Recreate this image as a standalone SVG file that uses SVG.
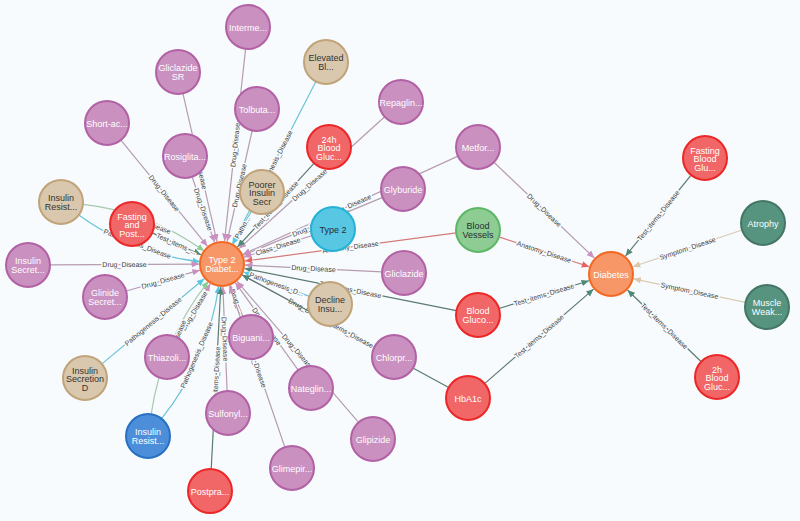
<svg xmlns="http://www.w3.org/2000/svg" width="800" height="521" viewBox="0 0 800 521">
<style>
.e{fill:none;stroke-width:1.2}
.dr{stroke:#b59cb0}
.te{stroke:#5b7a71}
.pa{stroke:#6cc3d6}
.an{stroke:#d47a7a}
.sy{stroke:#d8ccb4}
.cl{stroke:#c4a0be}
.re{stroke:#a9c8ae}
.lb{font-family:"Liberation Sans",Arial,sans-serif;font-size:7px;fill:#3c3c3c;text-anchor:middle;stroke:#f8fbfd;stroke-width:3;stroke-linejoin:round;paint-order:stroke}
.node circle{stroke-width:2}
.node text{font-family:"Liberation Sans",Arial,sans-serif;font-size:9px;text-anchor:middle;fill:#fff}
.drug circle{fill:#c990c0;stroke:#b261a5}
.path circle{fill:#d9c8ae;stroke:#c0a378}
.path text{fill:#333}
.test circle{fill:#f16667;stroke:#eb2728}
.cls circle{fill:#57c7e3;stroke:#23b3d7}
.cls text{fill:#2a2c34}
.dis circle{fill:#f79767;stroke:#f36924}
.anat circle{fill:#8dcc93;stroke:#5db665}
.anat text{fill:#2a2c34}
.symp circle{fill:#569480;stroke:#447666}
.reas circle{fill:#4c8eda;stroke:#2870c2}
</style>
<defs>
<marker id="aDr" markerUnits="userSpaceOnUse" markerWidth="8" markerHeight="7" refX="7.5" refY="3.25" orient="auto"><path d="M0,0L7.5,3.25L0,6.5Z" fill="#c990c0"/></marker>
<marker id="aTe" markerUnits="userSpaceOnUse" markerWidth="8" markerHeight="7" refX="7.5" refY="3.25" orient="auto"><path d="M0,0L7.5,3.25L0,6.5Z" fill="#4f8a78"/></marker>
<marker id="aPa" markerUnits="userSpaceOnUse" markerWidth="8" markerHeight="7" refX="7.5" refY="3.25" orient="auto"><path d="M0,0L7.5,3.25L0,6.5Z" fill="#57c7e3"/></marker>
<marker id="aAn" markerUnits="userSpaceOnUse" markerWidth="8" markerHeight="7" refX="7.5" refY="3.25" orient="auto"><path d="M0,0L7.5,3.25L0,6.5Z" fill="#e86464"/></marker>
<marker id="aSy" markerUnits="userSpaceOnUse" markerWidth="8" markerHeight="7" refX="7.5" refY="3.25" orient="auto"><path d="M0,0L7.5,3.25L0,6.5Z" fill="#d9c8ae"/></marker>
<marker id="aCl" markerUnits="userSpaceOnUse" markerWidth="8" markerHeight="7" refX="7.5" refY="3.25" orient="auto"><path d="M0,0L7.5,3.25L0,6.5Z" fill="#c990c0"/></marker>
<marker id="aRe" markerUnits="userSpaceOnUse" markerWidth="8" markerHeight="7" refX="7.5" refY="3.25" orient="auto"><path d="M0,0L7.5,3.25L0,6.5Z" fill="#8dcc93"/></marker>
</defs>
<rect width="800" height="521" fill="#f8fbfd"/>
<g id="connectors">
<!-- to Diabetes -->
<path class="e dr" marker-end="url(#aDr)" d="M493.9,162.2L594.4,258.1"/>
<text class="lb" transform="translate(544.2,210.1) rotate(43.7)" y="2.5">Drug_Disease</text>
<path class="e an" marker-end="url(#aAn)" d="M498.9,236.9L589.2,266.8"/>
<text class="lb" transform="translate(544,251.8) rotate(18.3)" y="2.5">Anatomy_Disease</text>
<path class="e te" marker-end="url(#aTe)" d="M499,308.5L589,280.8"/>
<text class="lb" transform="translate(544,294.7) rotate(-17.1)" y="2.5">Test_items_Disease</text>
<path class="e te" marker-end="url(#aTe)" d="M484.6,383.6L593.6,289.1"/>
<text class="lb" transform="translate(539.1,336.4) rotate(-40.9)" y="2.5">Test_items_Disease</text>
<path class="e te" marker-end="url(#aTe)" d="M691.1,175.1L625.5,256.1"/>
<text class="lb" transform="translate(658.3,215.6) rotate(-51)" y="2.5">Test_items_Disease</text>
<path class="e sy" marker-end="url(#aSy)" d="M742.1,230L632.8,266.7"/>
<text class="lb" transform="translate(687.5,248.4) rotate(-18.5)" y="2.5">Symptom_Disease</text>
<path class="e sy" marker-end="url(#aSy)" d="M745.5,302.4L633.5,278.8"/>
<text class="lb" transform="translate(689.5,290.6) rotate(11.9)" y="2.5">Symptom_Disease</text>
<path class="e te" marker-end="url(#aTe)" d="M701.2,361.7L627.5,290"/>
<text class="lb" transform="translate(664.4,325.9) rotate(44.2)" y="2.5">Test_items_Disease</text>
<!-- to Type 2 Diabetes -->
<path class="e dr" marker-end="url(#aDr)" d="M245.6,48.9L224.5,241.1"/>
<text class="lb" transform="translate(235.1,145) rotate(-83.7)" y="2.5">Drug_Disease</text>
<path class="e dr" marker-end="url(#aDr)" d="M252.2,130.5L227.1,241.6"/>
<text class="lb" transform="translate(239.3,185.5) rotate(-77.3)" y="2.5">Drug_Disease</text>
<path class="e dr" marker-end="url(#aDr)" d="M182.9,93.4L216.9,241.6"/>
<text class="lb" transform="translate(199.9,167.5) rotate(77.1)" y="2.5">Drug_Disease</text>
<path class="e dr" marker-end="url(#aDr)" d="M192.1,176.8L214.5,242.2"/>
<text class="lb" transform="translate(203.3,209.5) rotate(71.1)" y="2.5">Drug_Disease</text>
<path class="e dr" marker-end="url(#aDr)" d="M120.9,140.1L207.5,246.2"/>
<text class="lb" transform="translate(164.2,193.2) rotate(50.8)" y="2.5">Drug_Disease</text>
<path class="e pa" marker-end="url(#aPa)" d="M315.9,81.6L232.5,243.6"/>
<text class="lb" transform="translate(274.2,162.6) rotate(-62.8)" y="2.5">Pathogenesis_Disease</text>
<path class="e pa" marker-end="url(#aPa)" d="M251.3,211.2L233.2,243.9"/>
<text class="lb" transform="translate(242.3,227.6) rotate(-60.9)" y="2.5">Patho...</text>
<path class="e dr" marker-end="url(#aDr)" d="M384.7,116.8L239.1,248.6"/>
<text class="lb" transform="translate(309.5,185) rotate(-42.1)" y="2.5">Drug_Disease</text>
<path class="e te" marker-end="url(#aTe)" d="M314.2,163.2L237.5,247"/>
<text class="lb" transform="translate(275.8,205.1) rotate(-47.6)" y="2.5">Test_items_Disease</text>
<path class="e dr" marker-end="url(#aDr)" d="M458,156.1L242.9,254.4"/>
<text class="lb" transform="translate(350.5,205.3) rotate(-24.6)" y="2.5">Drug_Disease</text>
<path class="e dr" marker-end="url(#aDr)" d="M382.7,197.4L243.3,255.2"/>
<text class="lb" transform="translate(313,226.3) rotate(-22.5)" y="2.5">Drug_Disease</text>
<path class="e cl" marker-end="url(#aCl)" d="M312,235.6L243.9,257.1"/>
<text class="lb" transform="translate(278,246.4) rotate(-17.5)" y="2.5">Class_Disease</text>
<path class="e an" marker-end="url(#aAn)" d="M456.2,232.9L244.8,261"/>
<text class="lb" transform="translate(350.5,247) rotate(-7.6)" y="2.5">Anatomy_Disease</text>
<path class="e dr" marker-end="url(#aDr)" d="M382,271.9L245,265.1"/>
<text class="lb" transform="translate(313.5,268.5) rotate(2.8)" y="2.5">Drug_Disease</text>
<path class="e te" marker-end="url(#aTe)" d="M456.4,310.7L244.6,268.5"/>
<text class="lb" transform="translate(350.5,289.6) rotate(11.3)" y="2.5">Test_items_Disease</text>
<path class="e pa" marker-end="url(#aPa)" d="M309.4,296.4L243.6,272"/>
<text class="lb" transform="translate(276.5,284.2) rotate(20.3)" y="2.5">Pathogenesis_D...</text>
<path class="e dr" marker-end="url(#aDr)" d="M374.6,346.5L242.2,274.9"/>
<text class="lb" transform="translate(308.4,310.7) rotate(28.4)" y="2.5">Drug_Disease</text>
<path class="e te" marker-end="url(#aTe)" d="M448.7,387.5L242.2,275"/>
<text class="lb" transform="translate(345.4,331.2) rotate(28.6)" y="2.5">Test_items_Disease</text>
<path class="e re" marker-end="url(#aRe)" d="M82.9,204.3Q149.8,211.5 204.2,251.1"/>
<text class="lb" transform="translate(145.7,222.3) rotate(21.1)" y="2.5">Reason_Disease</text>
<path class="e pa" marker-end="url(#aPa)" d="M78.8,214.9Q133.2,254.5 200.1,261.7"/>
<text class="lb" transform="translate(137.4,243.8) rotate(21.1)" y="2.5">Pathogenesis_Disease</text>
<path class="e te" marker-end="url(#aTe)" d="M152.1,232.9L201,254.7"/>
<text class="lb" transform="translate(176.5,243.8) rotate(24)" y="2.5">Test_items_...</text>
<path class="e dr" marker-end="url(#aDr)" d="M50,264.9L199,264.1"/>
<text class="lb" transform="translate(124.5,264.5) rotate(-0.3)" y="2.5">Drug_Disease</text>
<path class="e dr" marker-end="url(#aDr)" d="M126.2,291L199.9,270.2"/>
<text class="lb" transform="translate(163,280.6) rotate(-15.8)" y="2.5">Drug_Disease</text>
<path class="e pa" marker-end="url(#aPa)" d="M101.9,363.9L204.3,278.7"/>
<text class="lb" transform="translate(153.1,321.3) rotate(-39.8)" y="2.5">Pathogenesis_Disease</text>
<path class="e dr" marker-end="url(#aDr)" d="M178.2,338.1L210.3,283.8"/>
<text class="lb" transform="translate(194.2,311) rotate(-59.4)" y="2.5">Drug_Disease</text>
<path class="e re" marker-end="url(#aRe)" d="M151.2,414.2Q162,340.1 208.4,281.3"/>
<text class="lb" transform="translate(173.5,345) rotate(-66.7)" y="2.5">Reason_Disease</text>
<path class="e pa" marker-end="url(#aPa)" d="M161.6,418.7Q208,359.9 218.8,285.8"/>
<text class="lb" transform="translate(196.5,355) rotate(-66.7)" y="2.5">Pathogenesis_Disease</text>
<path class="e dr" marker-end="url(#aDr)" d="M227.1,391L222.9,287"/>
<text class="lb" transform="translate(225,339) rotate(87.7)" y="2.5">Drug_Disease</text>
<path class="e te" marker-end="url(#aTe)" d="M211.2,469L220.8,287"/>
<text class="lb" transform="translate(216,378) rotate(-87)" y="2.5">Test_items_Disease</text>
<path class="e dr" marker-end="url(#aDr)" d="M242.9,316.5L230.5,285.4"/>
<text class="lb" transform="translate(236.7,301) rotate(68.3)" y="2.5">Drug_...</text>
<path class="e dr" marker-end="url(#aDr)" d="M298.2,370.1L235.4,282.7"/>
<text class="lb" transform="translate(266.8,326.4) rotate(54.3)" y="2.5">Drug_Disease</text>
<path class="e dr" marker-end="url(#aDr)" d="M358.6,422.3L237,281.4"/>
<text class="lb" transform="translate(297.8,351.9) rotate(49.2)" y="2.5">Drug_Disease</text>
<path class="e dr" marker-end="url(#aDr)" d="M284.9,447.2L229.5,285.8"/>
<text class="lb" transform="translate(257.2,366.5) rotate(71.1)" y="2.5">Drug_Disease</text>
</g>
<g id="nodes">
<g id="n-interme" class="node drug"><circle cx="248" cy="27" r="22"/><text x="248" y="30.8">Interme...</text></g>
<g id="n-gliclazide-sr" class="node drug"><circle cx="178" cy="72" r="22"/><text x="178" y="71.2">Gliclazide</text><text x="178" y="79.9">SR</text></g>
<g id="n-short-ac" class="node drug"><circle cx="107" cy="123" r="22"/><text x="107" y="126.8">Short-ac...</text></g>
<g id="n-rosiglita" class="node drug"><circle cx="185" cy="156" r="22"/><text x="185" y="159.8">Rosiglita...</text></g>
<g id="n-tolbuta" class="node drug"><circle cx="257" cy="109" r="22"/><text x="257" y="112.8">Tolbuta...</text></g>
<g id="n-elevated" class="node path"><circle cx="326" cy="62" r="22"/><text x="326" y="61.2">Elevated</text><text x="326" y="69.9">Bl...</text></g>
<g id="n-repaglin" class="node drug"><circle cx="401" cy="102" r="22"/><text x="401" y="105.8">Repaglin...</text></g>
<g id="n-24h" class="node test"><circle cx="329" cy="147" r="22"/><text x="329" y="142.5">24h</text><text x="329" y="151.2">Blood</text><text x="329" y="159.9">Gluc...</text></g>
<g id="n-poorer" class="node path"><circle cx="262" cy="192" r="22"/><text x="262" y="187.5">Poorer</text><text x="262" y="196.2">Insulin</text><text x="262" y="204.9">Secr</text></g>
<g id="n-glyburide" class="node drug"><circle cx="403" cy="189" r="22"/><text x="403" y="192.8">Glyburide</text></g>
<g id="n-type2" class="node cls"><circle cx="333" cy="229" r="22"/><text x="333" y="232.8">Type 2</text></g>
<g id="n-metfor" class="node drug"><circle cx="478" cy="147" r="22"/><text x="478" y="150.8">Metfor...</text></g>
<g id="n-blood-vessels" class="node anat"><circle cx="478" cy="230" r="22"/><text x="478" y="229.2">Blood</text><text x="478" y="237.9">Vessels</text></g>
<g id="n-gliclazide" class="node drug"><circle cx="404" cy="273" r="22"/><text x="404" y="276.8">Gliclazide</text></g>
<g id="n-blood-gluco" class="node test"><circle cx="478" cy="315" r="22"/><text x="478" y="314.2">Blood</text><text x="478" y="322.9">Gluco...</text></g>
<g id="n-decline" class="node path"><circle cx="330" cy="304" r="22"/><text x="330" y="303.2">Decline</text><text x="330" y="311.9">Insu...</text></g>
<g id="n-chlorpr" class="node drug"><circle cx="394" cy="357" r="22"/><text x="394" y="360.8">Chlorpr...</text></g>
<g id="n-hba1c" class="node test"><circle cx="468" cy="398" r="22"/><text x="468" y="401.8">HbA1c</text></g>
<g id="n-fasting-blood" class="node test"><circle cx="705" cy="158" r="22"/><text x="705" y="153.5">Fasting</text><text x="705" y="162.2">Blood</text><text x="705" y="170.9">Glu...</text></g>
<g id="n-atrophy" class="node symp"><circle cx="763" cy="223" r="22"/><text x="763" y="226.8">Atrophy</text></g>
<g id="n-muscle" class="node symp"><circle cx="767" cy="307" r="22"/><text x="767" y="306.2">Muscle</text><text x="767" y="314.9">Weak...</text></g>
<g id="n-2h" class="node test"><circle cx="717" cy="377" r="22"/><text x="717" y="372.5">2h</text><text x="717" y="381.2">Blood</text><text x="717" y="389.9">Gluc...</text></g>
<g id="n-diabetes" class="node dis"><circle cx="611" cy="274" r="22"/><text x="611" y="277.8">Diabetes</text></g>
<g id="n-insulin-resist-tan" class="node path"><circle cx="61" cy="202" r="22"/><text x="61" y="201.2">Insulin</text><text x="61" y="209.9">Resist...</text></g>
<g id="n-fasting-post" class="node test"><circle cx="132" cy="224" r="22"/><text x="132" y="219.5">Fasting</text><text x="132" y="228.2">and</text><text x="132" y="236.9">Post...</text></g>
<g id="n-insulin-secret" class="node drug"><circle cx="28" cy="265" r="22"/><text x="28" y="264.2">Insulin</text><text x="28" y="272.9">Secret...</text></g>
<g id="n-glinide" class="node drug"><circle cx="105" cy="297" r="22"/><text x="105" y="296.2">Glinide</text><text x="105" y="304.9">Secret...</text></g>
<g id="n-insulin-secretion-d" class="node path"><circle cx="85" cy="378" r="22"/><text x="85" y="373.5">Insulin</text><text x="85" y="382.2">Secretion</text><text x="85" y="390.9">D</text></g>
<g id="n-thiazoli" class="node drug"><circle cx="167" cy="357" r="22"/><text x="167" y="360.8">Thiazoli...</text></g>
<g id="n-insulin-resist-blue" class="node reas"><circle cx="148" cy="436" r="22"/><text x="148" y="435.2">Insulin</text><text x="148" y="443.9">Resist...</text></g>
<g id="n-sulfonyl" class="node drug"><circle cx="228" cy="413" r="22"/><text x="228" y="416.8">Sulfonyl...</text></g>
<g id="n-postpra" class="node test"><circle cx="210" cy="491" r="22"/><text x="210" y="494.8">Postpra...</text></g>
<g id="n-biguani" class="node drug"><circle cx="251" cy="337" r="22"/><text x="251" y="340.8">Biguani...</text></g>
<g id="n-nateglin" class="node drug"><circle cx="311" cy="388" r="22"/><text x="311" y="391.8">Nateglin...</text></g>
<g id="n-glipizide" class="node drug"><circle cx="373" cy="439" r="22"/><text x="373" y="442.8">Glipizide</text></g>
<g id="n-glimepir" class="node drug"><circle cx="292" cy="468" r="22"/><text x="292" y="471.8">Glimepir...</text></g>
<g id="n-type2-diabetes" class="node dis"><circle cx="222" cy="264" r="22"/><text x="222" y="263.2">Type 2</text><text x="222" y="271.9">Diabet...</text></g>
</g>
</svg>
